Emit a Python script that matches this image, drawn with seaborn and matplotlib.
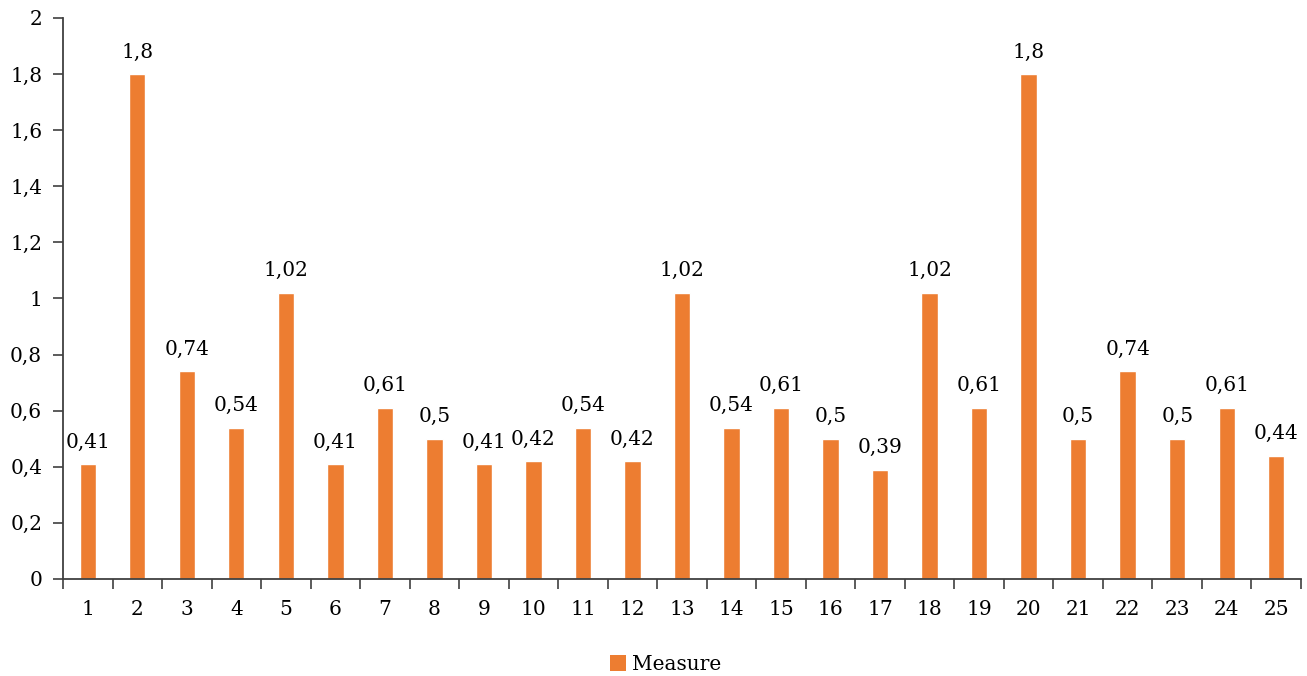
import matplotlib
matplotlib.use("Agg")
import matplotlib.pyplot as plt
from matplotlib.patches import Patch
from matplotlib.ticker import FuncFormatter, FixedLocator
import seaborn as sns
import pandas as pd
import numpy as np

categories = [str(i) for i in range(1, 26)]
values = [0.41, 1.8, 0.74, 0.54, 1.02, 0.41, 0.61, 0.5, 0.41, 0.42, 0.54, 0.42, 1.02,
          0.54, 0.61, 0.5, 0.39, 1.02, 0.61, 1.8, 0.5, 0.74, 0.5, 0.61, 0.44]
series_name = "Measure"
y_ticks = [0, 0.2, 0.4, 0.6, 0.8, 1.0, 1.2, 1.4, 1.6, 1.8, 2.0]

BAR_COLOR = "#ED7D31"
AXIS_COLOR = "#404040"
TEXT_COLOR = "#000000"
FS = 14.5

sns.set_style("white")
plt.rcParams["font.family"] = ["DejaVu Serif", "Liberation Serif"]

df = pd.DataFrame({"cat": categories, "val": values})

fig = plt.figure(figsize=(13.07, 6.76), dpi=100)
ax = fig.add_axes([0.0482, 0.1435, 0.9472, 0.8299])

sns.barplot(data=df, x="cat", y="val", order=categories, color=BAR_COLOR,
            width=0.33, saturation=1, ax=ax)

def comma(v):
    return f"{v:g}".replace(".", ",")

for cont in ax.containers:
    ax.bar_label(cont, labels=[comma(v) for v in values], padding=9,
                 fontsize=FS, color=TEXT_COLOR)

ax.set_xlim(-0.5, len(categories) - 0.5)
ax.set_ylim(0, 2)
ax.yaxis.set_major_locator(FixedLocator(y_ticks))
ax.yaxis.set_major_formatter(FuncFormatter(lambda v, _: comma(round(v, 1))))

# Category labels sit between tick marks placed on the category boundaries
ax.set_xticks(np.arange(-0.5, len(categories)), minor=True)
ax.tick_params(bottom=True, left=True, which="both")
ax.tick_params(axis="x", which="major", length=0, pad=15, labelsize=FS,
               labelcolor=TEXT_COLOR)
ax.tick_params(axis="x", which="minor", length=7, width=1.2, color=AXIS_COLOR)
ax.tick_params(axis="y", which="major", length=7, width=1.2, color=AXIS_COLOR,
               labelsize=FS, labelcolor=TEXT_COLOR, pad=8)

ax.set_xlabel("")
ax.set_ylabel("")
for side in ("top", "right"):
    ax.spines[side].set_visible(False)
for side in ("left", "bottom"):
    ax.spines[side].set_color(AXIS_COLOR)
    ax.spines[side].set_linewidth(1.3)
ax.grid(False)

handle = Patch(facecolor=BAR_COLOR, edgecolor="none", label=series_name)
ax.legend(handles=[handle], loc="center", bbox_to_anchor=(0.487, -0.152),
          frameon=False, fontsize=FS, handlelength=0.8, handleheight=0.9,
          handletextpad=0.3, labelcolor=TEXT_COLOR)

fig.savefig("out.png", dpi=100)
